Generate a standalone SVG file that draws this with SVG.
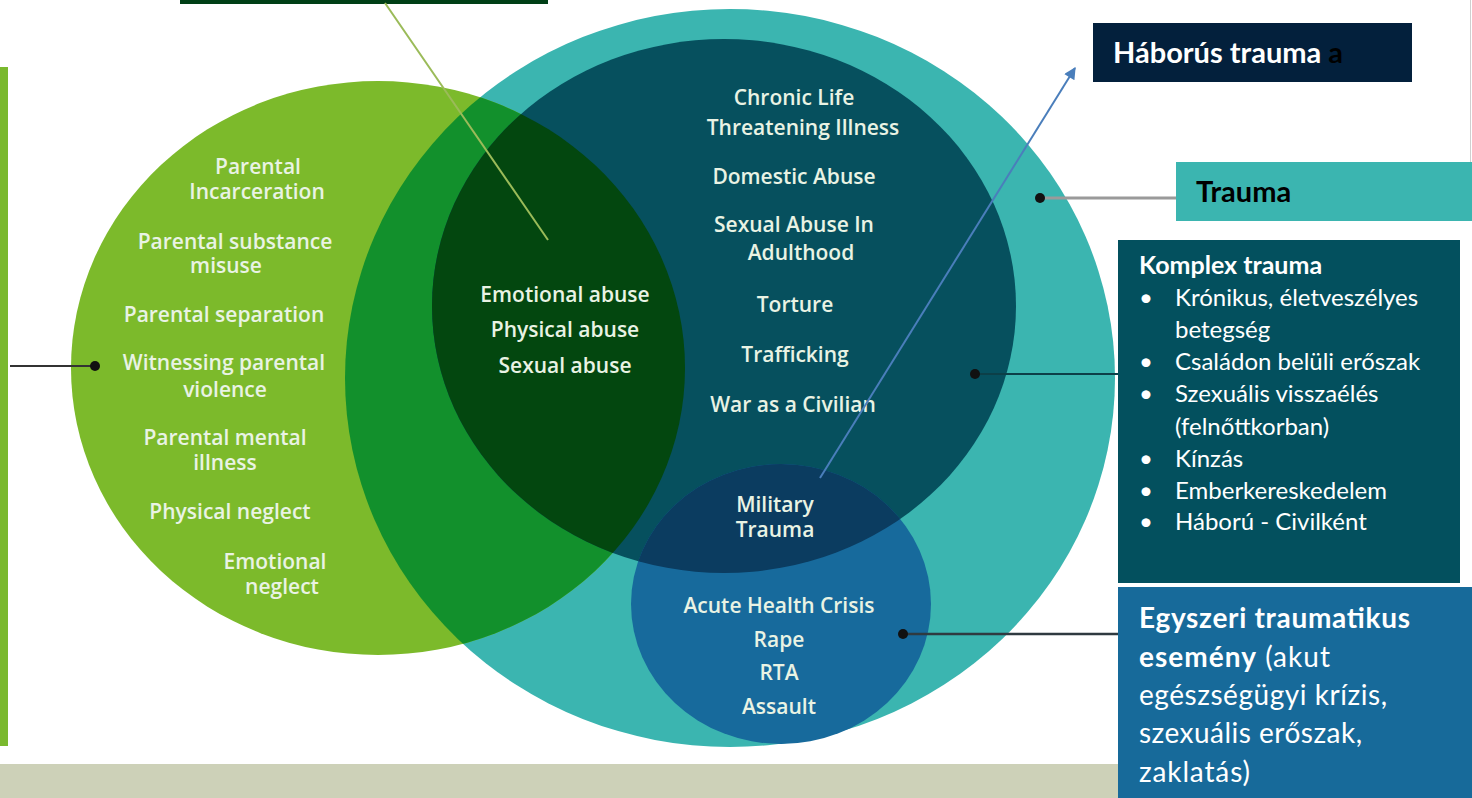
<svg xmlns="http://www.w3.org/2000/svg" width="1472" height="798" viewBox="0 0 1472 798">
<style>
.ct{font-family:"Open Sans","Noto Sans",sans-serif;font-weight:600;font-size:21px;fill:#e9f3e4;text-anchor:middle}
.bx{font-family:Lato,"Open Sans",sans-serif;fill:#ffffff}
.dot{fill:#111111}
</style>
<defs>
<ellipse id="eTeal" cx="730" cy="378" rx="385" ry="369"/>
<ellipse id="eGreen" cx="378" cy="368" rx="307" ry="287"/>
<ellipse id="eDark" cx="724" cy="306" rx="292" ry="267"/>
<ellipse id="eBlue" cx="781" cy="604" rx="150" ry="140"/>
<clipPath id="cTeal"><use href="#eTeal"/></clipPath>
<clipPath id="cDark"><use href="#eDark"/></clipPath>
<marker id="arr" viewBox="0 0 10 10" refX="9" refY="5" markerWidth="14" markerHeight="12" orient="auto-start-reverse" markerUnits="userSpaceOnUse">
<path d="M0,0 L10,5 L0,10 z" fill="#4a7ebb"/>
</marker>
</defs>
<rect x="0" y="0" width="1472" height="798" fill="#ffffff"/>
<g id="strip-bottom"><rect x="0" y="764" width="1118" height="34" fill="#cdd1b8"/></g>
<g id="bar-left"><rect x="0" y="67" width="8" height="679" fill="#7ab92e"/></g>
<g id="box-top"><rect x="180" y="0" width="368" height="4" fill="#003f16"/></g>
<line x1="1470.5" y1="0" x2="1470.5" y2="162" stroke="#cfcfcf" stroke-width="1"/>

<g id="trauma-circle"><use href="#eTeal" fill="#3bb5b0"/></g>
<g id="ace-circle">
<use href="#eGreen" fill="#7cba2b"/>
<use href="#eGreen" fill="#12902c" clip-path="url(#cTeal)"/>
</g>
<g id="complex-circle">
<use href="#eDark" fill="#06505e"/>
<use href="#eGreen" fill="#03470f" clip-path="url(#cDark)"/>
</g>
<g id="single-circle">
<use href="#eBlue" fill="#176a9c"/>
<use href="#eBlue" fill="#0b3c60" clip-path="url(#cDark)"/>
</g>

<g id="ace-text">
<text class="ct" x="258" y="174">Parental</text>
<text class="ct" x="257" y="199">Incarceration</text>
<text class="ct" x="235" y="249">Parental substance</text>
<text class="ct" x="226" y="273">misuse</text>
<text class="ct" x="224" y="322">Parental separation</text>
<text class="ct" x="224" y="370">Witnessing parental</text>
<text class="ct" x="225" y="397">violence</text>
<text class="ct" x="225" y="445">Parental mental</text>
<text class="ct" x="225" y="470">illness</text>
<text class="ct" x="230" y="519">Physical neglect</text>
<text class="ct" x="275" y="569">Emotional</text>
<text class="ct" x="282" y="594">neglect</text>
</g>
<g id="overlap-text">
<text class="ct" x="565" y="302">Emotional abuse</text>
<text class="ct" x="565" y="337">Physical abuse</text>
<text class="ct" x="565" y="373">Sexual abuse</text>
</g>
<g id="complex-text">
<text class="ct" x="794" y="105">Chronic Life</text>
<text class="ct" x="803" y="135">Threatening Illness</text>
<text class="ct" x="794" y="184">Domestic Abuse</text>
<text class="ct" x="794" y="232">Sexual Abuse In</text>
<text class="ct" x="801" y="260">Adulthood</text>
<text class="ct" x="795" y="312">Torture</text>
<text class="ct" x="795" y="362">Trafficking</text>
<text class="ct" x="793" y="412">War as a Civilian</text>
<text class="ct" x="775" y="512">Military</text>
<text class="ct" x="775" y="537">Trauma</text>
</g>
<g id="single-text">
<text class="ct" x="779" y="613">Acute Health Crisis</text>
<text class="ct" x="779" y="647">Rape</text>
<text class="ct" x="779" y="680">RTA</text>
<text class="ct" x="779" y="714">Assault</text>
</g>

<g id="box-haborus">
<rect x="1093" y="23" width="319" height="59" fill="#03203c"/>
<text class="bx" x="1113" y="63" font-size="29" font-weight="bold">Háborús trauma <tspan fill="#000000">a</tspan></text>
</g>
<g id="box-trauma">
<rect x="1176" y="162" width="296" height="59" fill="#3bb5b0"/>
<text class="bx" x="1196" y="202" font-size="29" font-weight="bold" style="fill:#000000">Trauma</text>
</g>
<g id="box-komplex">
<rect x="1118" y="240" width="342" height="343" fill="#03505e"/>
<text class="bx" x="1139" y="274" font-size="25" font-weight="bold">Komplex trauma</text>
<g class="bx" font-size="24">
<text x="1139" y="306">•</text><text x="1175" y="306">Krónikus, életveszélyes</text>
<text x="1175" y="338">betegség</text>
<text x="1139" y="370">•</text><text x="1175" y="370">Családon belüli erőszak</text>
<text x="1139" y="402">•</text><text x="1175" y="402">Szexuális visszaélés</text>
<text x="1175" y="435">(felnőttkorban)</text>
<text x="1139" y="467">•</text><text x="1175" y="467">Kínzás</text>
<text x="1139" y="499">•</text><text x="1175" y="499">Emberkereskedelem</text>
<text x="1139" y="530">•</text><text x="1175" y="530">Háború - Civilként</text>
</g>
</g>
<g id="box-egyszeri">
<rect x="1118" y="587" width="354" height="211" fill="#176a9a"/>
<g class="bx" font-size="28">
<text x="1139" y="628" font-weight="bold" textLength="271">Egyszeri traumatikus</text>
<text x="1139" y="667" textLength="191"><tspan font-weight="bold">esemény</tspan> (akut</text>
<text x="1139" y="705" textLength="248">egészségügyi krízis,</text>
<text x="1139" y="743" textLength="223">szexuális erőszak,</text>
<text x="1139" y="782" textLength="111">zaklatás)</text>
</g>
</g>

<g id="connectors">
<line x1="10" y1="366" x2="95" y2="366" stroke="#333333" stroke-width="2"/>
<circle class="dot" cx="95" cy="366" r="5"/>
<line x1="385" y1="3" x2="548" y2="240" stroke="#9bbb59" stroke-width="2"/>
<line x1="820" y1="478" x2="1075" y2="68" stroke="#4a7ebb" stroke-width="2" marker-end="url(#arr)"/>
<line x1="1040" y1="198" x2="1176" y2="198" stroke="#9a9a9a" stroke-width="3"/>
<circle class="dot" cx="1040" cy="198" r="5"/>
<line x1="975" y1="374" x2="1118" y2="374" stroke="#0c3f48" stroke-width="2"/>
<circle class="dot" cx="975" cy="374" r="5"/>
<line x1="903" y1="634" x2="1118" y2="634" stroke="#2f3a40" stroke-width="2.5"/>
<circle class="dot" cx="903" cy="634" r="5"/>
</g>
</svg>
